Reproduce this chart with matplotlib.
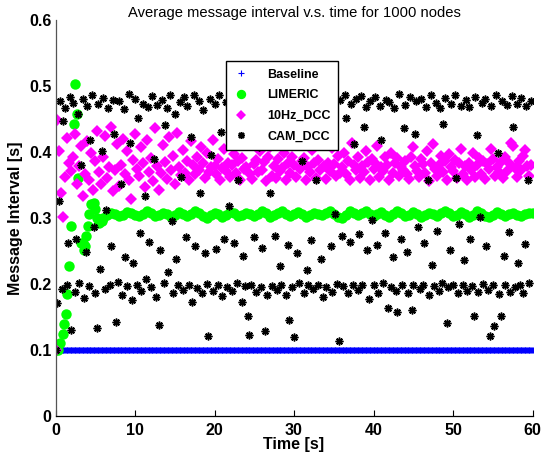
import numpy as np
import matplotlib
matplotlib.use("Agg")
import matplotlib.pyplot as plt

plt.rcParams['font.family'] = ['Liberation Sans', 'DejaVu Sans']

title = "Average message interval v.s. time for 1000 nodes"
xlabel = "Time [s]"
ylabel = "Message Interval [s]"
series_names = ["Baseline", "LIMERIC", "10Hz_DCC", "CAM_DCC"]
xticks = [0, 10, 20, 30, 40, 50, 60]
yticks = [0, 0.1, 0.2, 0.3, 0.4, 0.5, 0.6]

# Baseline: constant 0.1 s, sampled every 0.1 s
baseline_t = np.round(np.arange(0, 60.01, 0.1), 2)
baseline_level = 0.1
baseline_v = np.full(baseline_t.shape, baseline_level)

# LIMERIC: transient then steady state
limeric_t_early = [0.0, 0.3, 0.6, 0.9, 1.1, 1.3, 1.5, 1.75, 1.95, 2.3, 2.5, 2.7, 2.8,
                   3.2, 3.4, 3.55, 3.7, 3.85, 4.1, 4.27, 4.5, 4.8, 5.0, 5.2, 5.5, 5.8]
limeric_v_early = [0.10, 0.10, 0.11, 0.125, 0.14, 0.155, 0.185, 0.228, 0.288, 0.443, 0.503, 0.457, 0.36,
                   0.262, 0.262, 0.252, 0.258, 0.272, 0.288, 0.306, 0.321, 0.323, 0.313, 0.300, 0.292, 0.296]
limeric_t_steady = np.round(np.arange(6.0, 60.01, 0.5), 2)
limeric_v_steady = [
    0.300, 0.305, 0.308, 0.306, 0.303, 0.305, 0.309, 0.307,
    0.304, 0.303, 0.306, 0.310, 0.307, 0.303, 0.304, 0.308,
    0.306, 0.302, 0.305, 0.309, 0.306, 0.303, 0.306, 0.310,
    0.307, 0.303, 0.300, 0.304, 0.308, 0.306, 0.302, 0.305,
    0.309, 0.307, 0.303, 0.305, 0.308, 0.306, 0.303, 0.306,
    0.310, 0.307, 0.302, 0.304, 0.308, 0.311, 0.306, 0.303,
    0.306, 0.309, 0.306, 0.302, 0.305, 0.308, 0.306, 0.304,
    0.307, 0.310, 0.306, 0.302, 0.300, 0.305, 0.311, 0.308,
    0.304, 0.307, 0.310, 0.306, 0.303, 0.306, 0.309, 0.305,
    0.302, 0.306, 0.310, 0.307, 0.303, 0.305, 0.309, 0.306,
    0.302, 0.304, 0.308, 0.306, 0.303, 0.307, 0.311, 0.307,
    0.303, 0.305, 0.309, 0.306, 0.302, 0.305, 0.310, 0.307,
    0.303, 0.301, 0.305, 0.309, 0.306, 0.303, 0.306, 0.308,
    0.305, 0.303, 0.306, 0.308, 0.307,
]

# 10Hz_DCC sampled every 0.25 s
dcc10_t = np.round(np.arange(0, 59.99, 0.25), 2)
dcc10_v = [
    0.100, 0.448, 0.402, 0.338, 0.302, 0.362, 0.421, 0.384,
    0.371, 0.393, 0.428, 0.352, 0.379, 0.409, 0.334, 0.366,
    0.417, 0.358, 0.398, 0.343, 0.386, 0.432, 0.369, 0.351,
    0.392, 0.424, 0.361, 0.377, 0.438, 0.341, 0.373, 0.412,
    0.348, 0.381, 0.419, 0.366, 0.402, 0.357, 0.329, 0.388,
    0.427, 0.374, 0.363, 0.408, 0.383, 0.347, 0.418, 0.369,
    0.391, 0.356, 0.436, 0.379, 0.342, 0.368, 0.411, 0.385,
    0.359, 0.422, 0.372, 0.394, 0.352, 0.429, 0.377, 0.365,
    0.403, 0.368, 0.387, 0.358, 0.416, 0.381, 0.367, 0.392,
    0.372, 0.407, 0.384, 0.361, 0.398, 0.369, 0.378, 0.418,
    0.379, 0.366, 0.389, 0.358, 0.376, 0.404, 0.371, 0.383,
    0.362, 0.381, 0.397, 0.368, 0.386, 0.357, 0.391, 0.374,
    0.377, 0.414, 0.366, 0.359, 0.382, 0.388, 0.369, 0.401,
    0.373, 0.385, 0.356, 0.392, 0.408, 0.364, 0.379, 0.361,
    0.389, 0.371, 0.376, 0.399, 0.358, 0.384, 0.368, 0.393,
    0.381, 0.362, 0.411, 0.374, 0.387, 0.391, 0.357, 0.377,
    0.369, 0.403, 0.383, 0.361, 0.388, 0.372, 0.416, 0.379,
    0.359, 0.384, 0.371, 0.406, 0.382, 0.363, 0.394, 0.368,
    0.378, 0.398, 0.366, 0.386, 0.357, 0.413, 0.381, 0.372,
    0.392, 0.361, 0.379, 0.369, 0.402, 0.385, 0.358, 0.389,
    0.374, 0.383, 0.409, 0.362, 0.378, 0.371, 0.393, 0.381,
    0.358, 0.399, 0.368, 0.384, 0.391, 0.364, 0.377, 0.372,
    0.386, 0.367, 0.359, 0.392, 0.407, 0.379, 0.371, 0.362,
    0.389, 0.382, 0.368, 0.401, 0.356, 0.384, 0.412, 0.375,
    0.363, 0.381, 0.394, 0.369, 0.386, 0.358, 0.397, 0.378,
    0.371, 0.388, 0.361, 0.383, 0.404, 0.367, 0.379, 0.357,
    0.384, 0.373, 0.398, 0.362, 0.381, 0.391, 0.366, 0.387,
    0.359, 0.382, 0.374, 0.405, 0.389, 0.363, 0.378, 0.369,
    0.385, 0.361, 0.392, 0.371, 0.383, 0.414, 0.409, 0.376,
    0.362, 0.386, 0.373, 0.394, 0.403, 0.379, 0.364, 0.381,
]

# CAM_DCC sampled every 0.2 s
cam_t = np.round(np.arange(0, 59.9, 0.2), 2)
cam_v = [
    0.100, 0.171, 0.326, 0.478, 0.192, 0.447, 0.466, 0.199, 0.262, 0.483,
    0.131, 0.474, 0.188, 0.268, 0.458, 0.201, 0.381, 0.481, 0.179, 0.249,
    0.469, 0.197, 0.418, 0.486, 0.287, 0.186, 0.133, 0.473, 0.223, 0.402,
    0.482, 0.193, 0.312, 0.467, 0.198, 0.258, 0.479, 0.428, 0.142, 0.203,
    0.477, 0.351, 0.184, 0.465, 0.241, 0.197, 0.488, 0.413, 0.176, 0.232,
    0.480, 0.199, 0.452, 0.277, 0.189, 0.473, 0.334, 0.207, 0.468, 0.263,
    0.195, 0.485, 0.389, 0.181, 0.471, 0.138, 0.252, 0.479, 0.201, 0.441,
    0.466, 0.218, 0.487, 0.296, 0.187, 0.458, 0.238, 0.198, 0.476, 0.362,
    0.191, 0.483, 0.271, 0.469, 0.199, 0.423, 0.172, 0.486, 0.258, 0.194,
    0.478, 0.338, 0.186, 0.464, 0.247, 0.200, 0.121, 0.481, 0.396, 0.189,
    0.472, 0.253, 0.198, 0.487, 0.431, 0.182, 0.268, 0.476, 0.196, 0.318,
    0.479, 0.190, 0.262, 0.468, 0.201, 0.357, 0.485, 0.173, 0.243, 0.197,
    0.477, 0.151, 0.123, 0.199, 0.466, 0.271, 0.188, 0.483, 0.408, 0.195,
    0.254, 0.480, 0.129, 0.183, 0.470, 0.338, 0.197, 0.488, 0.273, 0.191,
    0.475, 0.228, 0.199, 0.437, 0.466, 0.184, 0.259, 0.146, 0.481, 0.196,
    0.119, 0.486, 0.247, 0.201, 0.469, 0.386, 0.187, 0.478, 0.221, 0.198,
    0.482, 0.266, 0.192, 0.471, 0.358, 0.199, 0.489, 0.238, 0.181, 0.476,
    0.196, 0.428, 0.467, 0.257, 0.188, 0.484, 0.306, 0.200, 0.114, 0.479,
    0.272, 0.197, 0.487, 0.451, 0.186, 0.263, 0.473, 0.199, 0.412, 0.481,
    0.191, 0.276, 0.485, 0.198, 0.438, 0.468, 0.252, 0.178, 0.477, 0.297,
    0.199, 0.484, 0.259, 0.187, 0.470, 0.418, 0.202, 0.278, 0.479, 0.163,
    0.476, 0.196, 0.241, 0.466, 0.189, 0.158, 0.488, 0.268, 0.199, 0.436,
    0.471, 0.248, 0.186, 0.483, 0.161, 0.198, 0.427, 0.477, 0.287, 0.192,
    0.480, 0.199, 0.262, 0.468, 0.358, 0.184, 0.486, 0.229, 0.197, 0.475,
    0.281, 0.190, 0.467, 0.201, 0.443, 0.482, 0.141, 0.196, 0.251, 0.473,
    0.198, 0.487, 0.361, 0.186, 0.291, 0.469, 0.199, 0.237, 0.479, 0.189,
    0.468, 0.268, 0.197, 0.152, 0.484, 0.426, 0.188, 0.302, 0.474, 0.200,
    0.481, 0.257, 0.191, 0.121, 0.469, 0.198, 0.137, 0.486, 0.398, 0.185,
    0.151, 0.477, 0.243, 0.199, 0.471, 0.279, 0.188, 0.485, 0.438, 0.196,
    0.473, 0.232, 0.198, 0.482, 0.187, 0.261, 0.469, 0.357, 0.201, 0.478,
]

limeric_t = np.concatenate([limeric_t_early, limeric_t_steady])
limeric_v = np.concatenate([limeric_v_early, limeric_v_steady])

fig = plt.figure(figsize=(5.41, 4.54), dpi=100)
ax = fig.add_axes([0.1026, 0.0837, 0.8817, 0.8722])

ax.plot(baseline_t, baseline_v, linestyle='none', marker='+', color=(0, 0, 1),
        markersize=5, markeredgewidth=0.8, label=series_names[0])
ax.plot(limeric_t, limeric_v, linestyle='none', marker='o', color=(0, 1, 0),
        markersize=7.5, markeredgewidth=0, label=series_names[1])
ax.plot(dcc10_t, dcc10_v, linestyle='none', marker='D', color=(1, 0, 1),
        markersize=6.2, markeredgewidth=0, label=series_names[2])
ax.plot(cam_t, cam_v, linestyle='none', marker=(8, 2, 0), color='black',
        markersize=5.6, markeredgewidth=1.1, label=series_names[3])

ax.set_xlim(0, 60)
ax.set_ylim(0, 0.6)
ax.set_xticks(xticks)
ax.set_yticks(yticks)
ax.set_xticklabels([str(v) for v in xticks], fontsize=11.5, fontweight='bold')
ax.set_yticklabels(['0' if v == 0 else f"{v:.1f}" for v in yticks], fontsize=11.5, fontweight='bold')
ax.tick_params(direction='in', length=4, width=0.8, pad=3)
ax.tick_params(axis='x', pad=5)
ax.tick_params(axis='y', length=0)
for s in ['top', 'right']:
    ax.spines[s].set_visible(False)
for s in ['left', 'bottom']:
    ax.spines[s].set_linewidth(0.9)
ax.spines['left'].set_color('#555555')

ax.set_xlabel(xlabel, fontsize=11.5, fontweight='bold', labelpad=-1)
ax.set_ylabel(ylabel, fontsize=11.5, fontweight='bold', labelpad=4)
ax.set_title(title, fontsize=10.6, pad=2.5, fontweight='medium')

leg = ax.legend(loc='upper left', bbox_to_anchor=(0.357, 0.8965), frameon=True,
                fancybox=False, edgecolor='black', framealpha=1,
                prop={'weight': 'bold', 'size': 9}, handlelength=1.2,
                handletextpad=1.5, labelspacing=0.7, borderpad=0.6,
                borderaxespad=0, markerscale=0.9)
leg.get_frame().set_linewidth(1.0)

fig.savefig("out.png", dpi=100)
